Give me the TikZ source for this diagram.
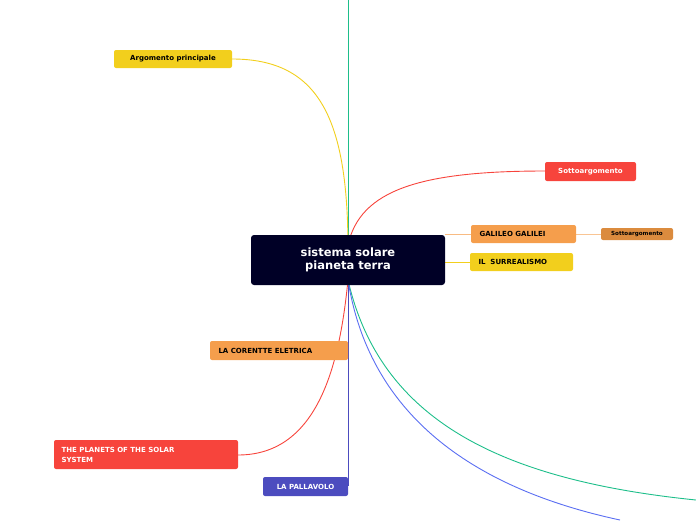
\documentclass[tikz,border=0pt]{standalone}
\usepackage{fontspec}
\setmainfont{DejaVu Sans}
\begin{document}
\begin{tikzpicture}[x=1pt,y=-1pt,
 box/.style={rounded corners=2pt,inner sep=0pt,font=\bfseries\fontsize{7}{8}\selectfont,anchor=north west,align=left,text depth=0pt},
 ln/.style={line width=0.9pt}]
\definecolor{yel}{HTML}{F2CF1D}\definecolor{red1}{HTML}{F7443C}\definecolor{ora}{HTML}{F59E4C}
\definecolor{ora2}{HTML}{DB8B3E}\definecolor{pur}{HTML}{4C4CBF}\definecolor{teal1}{HTML}{1DBE8A}\definecolor{blu}{HTML}{5A6EF2}
\useasboundingbox (0,0) rectangle (696,520);
\coordinate (c) at (348,262);
\coordinate (top) at (348,0);
\coordinate (t2) at (696,500);
\coordinate (b2) at (620,520);
% connectors
\draw[teal1,ln] (c) -- (top);
\draw[yel,ln] (348,250) .. controls (348,120) and (320,59) .. (232,59);
\draw[red1,ln] (348,245) .. controls (360,190) and (420,171) .. (545,171);
\draw[ora!70,ln] (445,234) -- (471,234);
\draw[ora!60,ln] (576,234) -- (601,234);
\draw[yel,ln] (445,262) -- (470,262);
\draw[red1,ln] (348,280) .. controls (340,360) and (320,455) .. (238,455);
\draw[ora,ln] (348,280) -- (348,350);
\draw[pur,ln] (348,280) -- (348,486);
\draw[teal1,ln] (348,280) .. controls (380,420) and (500,480) .. (t2);
\draw[blu,ln] (348,280) .. controls (370,420) and (480,490) .. (b2);
% nodes
\fill[rounded corners=3pt,fill={rgb,255:red,0;green,0;blue,38}] (251,235) rectangle (445,285);
\node[font=\bfseries\fontsize{11.5}{13.5}\selectfont,text=white,align=center] (main) at (348,260) {sistema solare\\pianeta terra};
\fill[yel,rounded corners=2pt] (114,50) rectangle (232,68);
\node[font=\bfseries\fontsize{7}{8}\selectfont] (a) at (173,59) {Argomento principale};
\fill[red1,rounded corners=2pt] (545,162) rectangle (636,181);
\node[font=\bfseries\fontsize{7}{8}\selectfont,text=white] (s) at (590.5,171.5) {Sottoargomento};
\fill[ora,rounded corners=2pt] (471,225) rectangle (576,243);
\node[font=\bfseries\fontsize{7}{8}\selectfont,anchor=west] (g) at (476,234) {GALILEO GALILEI};
\fill[ora2,rounded corners=2pt] (601,228) rectangle (673,240);
\node[font=\bfseries\fontsize{5.6}{6}\selectfont] (s2) at (637,234) {Sottoargomento};
\fill[yel,rounded corners=2pt] (470,253) rectangle (573,271);
\node[font=\bfseries\fontsize{7}{8}\selectfont,anchor=west] (il) at (475,262) {IL\ \ SURREALISMO};
\fill[ora,rounded corners=2pt] (210,341) rectangle (348,360);
\node[font=\bfseries\fontsize{7}{8}\selectfont,anchor=west] (co) at (215,350.5) {LA CORENTTE ELETRICA};
\fill[red1,rounded corners=2pt] (54,440) rectangle (238,469);
\node[font=\bfseries\fontsize{7}{10.5}\selectfont,text=white,anchor=west,align=left] (pl) at (58,455) {THE PLANETS OF THE SOLAR\\SYSTEM};
\fill[pur,rounded corners=2pt] (263,477) rectangle (348,496);
\node[font=\bfseries\fontsize{7}{8}\selectfont,text=white] (pa) at (305.5,486.5) {LA PALLAVOLO};
\end{tikzpicture}
\end{document}
